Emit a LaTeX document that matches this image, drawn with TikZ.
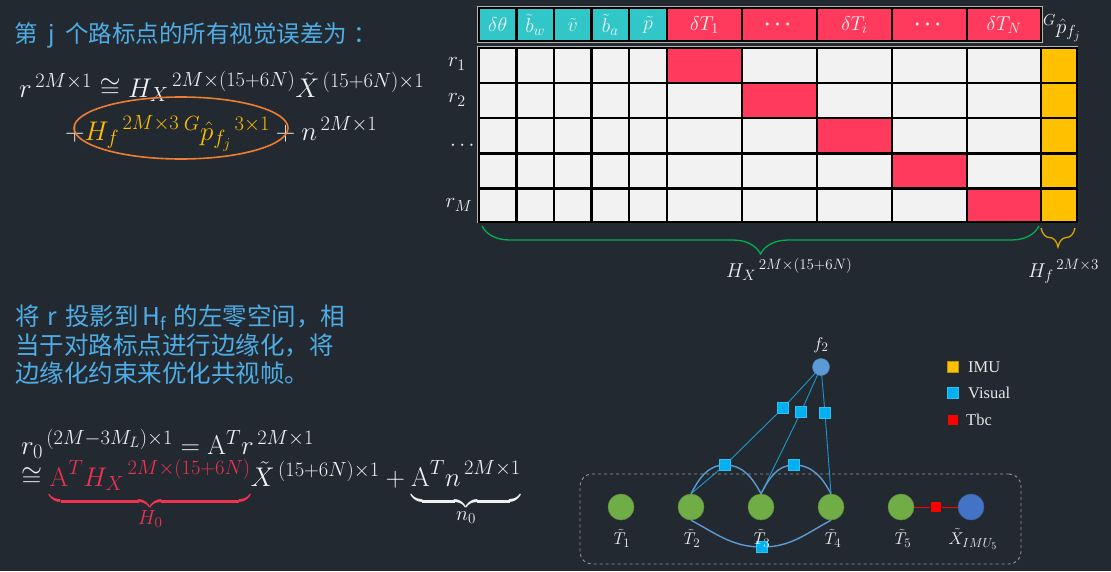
\RequirePackage{fix-cm}
\documentclass[tikz,border=0pt]{standalone}
\usepackage{amsmath}
\usepackage{fontspec}
\newfontfamily\cjk{Noto Sans CJK SC}
\newfontfamily\tms{Liberation Serif}
\usetikzlibrary{decorations.pathreplacing,shapes.geometric}
\DeclareMathSizes{27}{27}{20.5}{15}
\DeclareMathSizes{20}{20}{15}{11}
\DeclareMathSizes{21}{21}{16}{12}
\DeclareMathSizes{17}{17}{13}{10}
\pgfdeclarelayer{bg}\pgfdeclarelayer{edges}
\pgfsetlayers{bg,edges,main}
\definecolor{bgc}{RGB}{35,41,49}
\definecolor{tblue}{RGB}{79,173,229}
\definecolor{mtext}{RGB}{242,242,242}
\definecolor{yel}{RGB}{255,192,0}
\definecolor{orn}{RGB}{237,125,49}
\definecolor{eqred}{RGB}{238,50,80}
\definecolor{hcy}{RGB}{49,198,200}
\definecolor{hred}{RGB}{255,58,92}
\definecolor{cellc}{RGB}{242,242,242}
\definecolor{bgreen}{RGB}{0,176,80}
\definecolor{tgreen}{RGB}{112,173,71}
\definecolor{xblue}{RGB}{68,114,196}
\definecolor{fblue}{RGB}{91,155,213}
\definecolor{vblue}{RGB}{0,176,240}
\definecolor{vline}{RGB}{28,152,204}
\definecolor{redf}{RGB}{255,0,0}
\definecolor{dgray}{RGB}{150,150,150}
\definecolor{legt}{RGB}{230,230,230}
\tikzset{
  cjktext/.style={text=tblue, inner sep=0pt, font=\cjk\fontsize{24.5}{30}\selectfont},
  mathtxt/.style={text=mtext, inner sep=0pt, font=\fontsize{27}{30}\selectfont},
  hdrlab/.style={text=mtext, inner sep=0pt, font=\fontsize{20}{22}\selectfont},
  rowlab/.style={text=mtext, inner sep=0pt, font=\fontsize{21}{24}\selectfont},
  bracelab/.style={text=mtext, inner sep=0pt, font=\fontsize{20}{22}\selectfont},
  tnode/.style={circle, fill=tgreen, draw=tgreen!85!black, line width=0.5pt, minimum size=26pt, inner sep=0pt},
  xnode/.style={circle, fill=xblue, draw=xblue!85!black, line width=0.5pt, minimum size=26pt, inner sep=0pt},
  fnode/.style={circle, fill=fblue, draw=fblue!85!black, line width=0.5pt, minimum size=17pt, inner sep=0pt},
  visf/.style={rectangle, fill=vblue, draw=vblue!80!white, line width=0.4pt, minimum size=10.7pt, inner sep=0pt},
  tbcf/.style={rectangle, fill=redf, minimum size=10.7pt, inner sep=0pt},
  imuf/.style={rectangle, fill=yel, draw=yel!75!black, line width=0.6pt, minimum size=10.5pt, inner sep=0pt},
  glab/.style={text=mtext, inner sep=0pt, font=\fontsize{17}{20}\selectfont},
  legtxt/.style={text=legt, inner sep=0pt, anchor=west, font=\tms\fontsize{16.5}{20}\selectfont},
  vedge/.style={vline, line width=0.9pt},
  cedge/.style={fblue, line width=1.4pt},
  redge/.style={redf, line width=1pt},
}
\begin{document}
\begin{tikzpicture}[x=1pt,y=-1pt]
\begin{pgfonlayer}{bg}
\fill[bgc] (0,0) rectangle (1111,571);
\end{pgfonlayer}
\useasboundingbox (0,0) rectangle (1111,571);

% ---------- top-left text and equation ----------
\node[cjktext, anchor=base west, font=\cjk\fontsize{23.5}{28}\selectfont] (title) at (14,42) {第\hspace{10.5pt}j\hspace{10.5pt}个路标点的所有视觉误差为\hspace{6pt}：};
\node[mathtxt, anchor=base west] (eqA) at (19,97) {$r^{\,2M\times 1}\cong {H_X}^{\,2M\times(15+6N)}\tilde{X}^{\,(15+6N)\times 1}$};
\node[mathtxt, anchor=base west] (eqB) at (65,140) {$+{\color{yel}{H_f}^{\,2M\times3}\,{}^{G}\hat{p}_{f_j}{}^{\,3\times1}}+n^{\,2M\times1}$};
\node[ellipse, draw=orn, line width=1.6pt, minimum width=214pt, minimum height=62pt, inner sep=0pt] (ell) at (181,128) {};

% ---------- middle text ----------
\node[cjktext, anchor=base west] (m1) at (15,325) {将\hspace{8pt}r\hspace{8pt}投影到\hspace{4pt}H\textsubscript{f}\hspace{7pt}的左零空间，相};
\node[cjktext, anchor=base west] (m2) at (15,354) {当于对路标点进行边缘化，将};
\node[cjktext, anchor=base west] (m3) at (15,382) {边缘化约束来优化共视帧。};

% ---------- bottom equations ----------
\node[mathtxt, anchor=base west] (eqC) at (21,454) {$r_0{}^{\,(2M-3M_L)\times1}=\mathrm{A}^{T}r^{\,2M\times1}$};
\node[mathtxt, anchor=base west] (eqD) at (21,486) {$\cong{\color{eqred}\underbrace{\mathrm{A}^{T}{H_X}^{\,2M\times(15+6N)}\rule[-11pt]{0pt}{11pt}}_{H_0}}\tilde{X}^{\,(15+6N)\times1}+\underbrace{\mathrm{A}^{T}n^{\,2M\times1}\rule[-11pt]{0pt}{11pt}}_{n_0}$};

% ---------- matrix header ----------
\foreach \a/\b/\col/\lab [count=\c] in {
  479/516.5/hcy/{\delta\theta},
  516.5/554/hcy/{\tilde{b}_w},
  554/591.5/hcy/{\tilde{v}},
  591.5/629/hcy/{\tilde{b}_a},
  629/667/hcy/{\tilde{p}},
  667/742/hred/{\boldsymbol{\cdots}},
  742/817/hred/{\boldsymbol{\cdots}},
  817/892/hred/{\delta T_i},
  892/967/hred/{\boldsymbol{\cdots}},
  967/1041/hred/{\delta T_N}}{
  \filldraw[fill=\col, draw=black, line width=2.2pt] (\a,8) rectangle (\b,41);
  \ifnum\c=6 \node[hdrlab] (h\c) at ({(\a+\b)/2},25) {$\delta T_1$};
  \else \node[hdrlab] (h\c) at ({(\a+\b)/2},25) {$\lab$};\fi
}
\draw[mtext!70!bgc, line width=1pt] (477.5,6.5) rectangle (1042.5,42.5);
\node[hdrlab, anchor=base west, font=\fontsize{21}{24}\selectfont] (hp) at (1043,33) {${}^{G}\hat{p}_{f_j}$};

% ---------- matrix grid ----------
\foreach \a/\b [count=\c] in {479/516.5,516.5/554,554/591.5,591.5/629,629/667,667/742,742/817,817/892,892/967,967/1041,1041/1077}{
  \foreach \t/\u [count=\r] in {48/83,83/118,118/153.5,153.5/188.5,188.5/222}{
    \pgfmathtruncatemacro{\rr}{\r+5}
    \ifnum\c=11 \def\fc{yel}\else\ifnum\c=\rr\relax \def\fc{hred}\else\def\fc{cellc}\fi\fi
    \filldraw[fill=\fc, draw=black, line width=2.7pt] (\a,\t) rectangle (\b,\u);
  }
}
\draw[mtext!70!bgc, line width=1pt] (477.5,222.5) -- (477.5,46.5) -- (1078,46.5);

\node[rowlab] (r1) at (457,64) {$r_1$};
\node[rowlab] (r2) at (457,100) {$r_2$};
\node[rowlab] (r3) at (464,146) {$\cdots$};
\node[rowlab] (r4) at (459,205) {$r_M$};

% ---------- braces ----------
\draw[bgreen, line width=1.3pt, decorate, decoration={brace, mirror, amplitude=28pt}] (482,226) -- (1039,226);
\draw[yel!85!black, line width=1.3pt, decorate, decoration={brace, mirror, amplitude=19pt}] (1041,228) -- (1075,228);
\node[bracelab, anchor=base west] (hx) at (726,277) {${H_X}^{\,2M\times(15+6N)}$};
\node[bracelab, anchor=base west] (hf) at (1028,277) {${H_f}^{\,2M\times3}$};

% ---------- factor graph ----------
\node[tnode] (T1) at (621,507) {};
\node[tnode] (T2) at (691,507) {};
\node[tnode] (T3) at (761,507) {};
\node[tnode] (T4) at (831,507) {};
\node[tnode] (T5) at (901,507) {};
\node[xnode] (X5) at (971,507) {};
\node[fnode] (f2) at (821,367) {};
\node[glab] (lf2) at (821,345) {$f_2$};
\node[visf] (v1) at (783,408) {};
\node[visf] (v2) at (801,412) {};
\node[visf] (v3) at (825,413) {};
\node[visf] (v4) at (725,465) {};
\node[visf] (v5) at (794,465) {};
\node[visf] (v6) at (762,547) {};
\node[tbcf] (tb) at (936,507) {};
\node[glab] (lT1) at (622,538) {$\tilde{T}_1$};
\node[glab] (lT2) at (692,538) {$\tilde{T}_2$};
\node[glab] (lT3) at (762,538) {$\tilde{T}_3$};
\node[glab] (lT4) at (833,538) {$\tilde{T}_4$};
\node[glab] (lT5) at (903,538) {$\tilde{T}_5$};
\node[glab] (lX5) at (973,539) {$\tilde{X}_{IMU_5}$};

\begin{pgfonlayer}{edges}
\draw[vedge] (f2.center) -- (v1.center) -- (v4.center) -- (T2.north);
\draw[vedge] (f2.center) -- (v2.center) -- (T3.north);
\draw[vedge] (f2.center) -- (v3.center) -- (T4.north);
\draw[cedge] (T2.north) to[out=62,in=180] (v4.center) to[out=0,in=118] (T3.north);
\draw[cedge] (T3.north) to[out=62,in=180] (v5.center) to[out=0,in=118] (T4.north);
\draw[cedge] (T2.south) to[out=-28,in=180] (v6.center) to[out=0,in=-152] (T4.south);
\draw[redge] (T5) -- (tb) -- (X5);
\end{pgfonlayer}

\node[draw=dgray, dashed, line width=0.9pt, rounded corners=12pt, minimum width=441pt, minimum height=90pt, inner sep=0pt] (box) at (800.5,519) {};

% ---------- legend ----------
\node[imuf] (li) at (953,367) {};
\node[visf] (lv) at (953,393) {};
\node[tbcf] (lt) at (953,420) {};
\node[legtxt] (ti) at (968,367) {IMU};
\node[legtxt] (tv) at (968,393) {Visual};
\node[legtxt] (tt) at (966,420) {Tbc};
\end{tikzpicture}
\end{document}
